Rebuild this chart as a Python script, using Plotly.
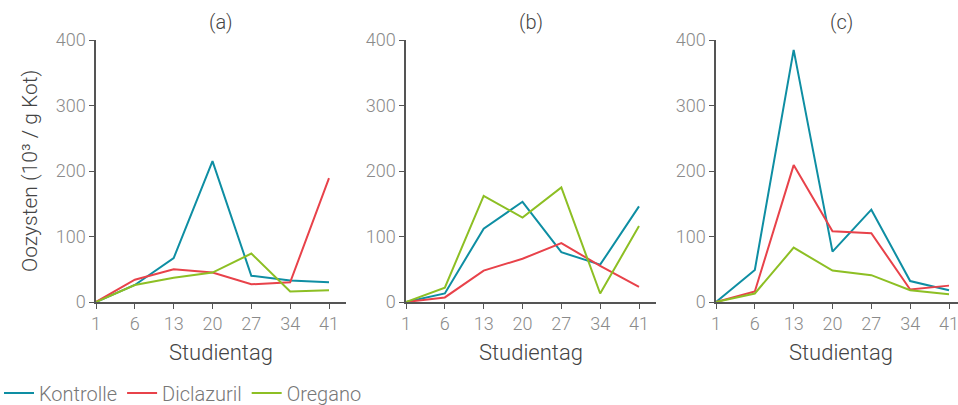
import plotly.graph_objects as go

days = ["1", "6", "13", "20", "27", "34", "41"]
panels = ["(a)", "(b)", "(c)"]
series_names = ["Kontrolle", "Diclazuril", "Oregano"]

kontrolle_a = [0, 26, 67, 215, 40, 33, 30]
diclazuril_a = [0, 34, 50, 45, 27, 30, 189]
oregano_a = [0, 26, 37, 45, 74, 16, 18]

kontrolle_b = [0, 13, 112, 153, 76, 57, 146]
diclazuril_b = [0, 7, 48, 66, 90, 55, 23]
oregano_b = [0, 22, 162, 129, 175, 13, 116]

kontrolle_c = [0, 49, 385, 77, 141, 32, 18]
diclazuril_c = [0, 16, 209, 108, 105, 19, 25]
oregano_c = [0, 13, 83, 48, 41, 18, 12]

y_ticks = [0, 100, 200, 300, 400]

colors = ["#0e8ea3", "#e8424a", "#8dbf24"]
data = [
    [kontrolle_a, diclazuril_a, oregano_a],
    [kontrolle_b, diclazuril_b, oregano_b],
    [kontrolle_c, diclazuril_c, oregano_c],
]

W, H = 958, 405
FONT = "Roboto"
tick_color = "#8a8a8a"
axis_color = "#555555"


def px(x):
    return x / W


def py(y):
    return (H - y) / H


# pixel layout (page coordinates)
starts = [96, 406, 716]
spacing = (329 - 96) / 6
ext = 6.45
y0_px, y1_px = 302, 40

fig = go.Figure()
for p in range(3):
    ax = "" if p == 0 else str(p + 1)
    for s in range(3):
        fig.add_trace(go.Scatter(
            x=days, y=data[p][s], mode="lines",
            line=dict(color=colors[s], width=2),
            name=series_names[s], showlegend=(p == 0),
            xaxis="x" + ax, yaxis="y" + ax,
        ))
    x_left = starts[p]
    x_right = min(x_left + ext * spacing, W)
    rng_max = (x_right - x_left) / spacing
    fig.layout["xaxis" + ax] = dict(
        domain=[px(x_left), min(px(x_right), 1)], type="category",
        range=[0, rng_max], anchor="y" + ax, automargin=False,
        ticklabeloverflow="allow",
        showline=True, linecolor=axis_color, linewidth=1.5,
        ticks="outside", ticklen=5, tickcolor=axis_color, tickwidth=1,
        showgrid=False, zeroline=False,
        tickfont=dict(family=FONT, size=18, color=tick_color, weight=300),
    )
    fig.layout["yaxis" + ax] = dict(
        domain=[py(y0_px), py(y1_px)], range=[0, 400],
        anchor="x" + ax, tickvals=y_ticks, automargin=False,
        showline=True, linecolor=axis_color, linewidth=1.5,
        ticks="outside", ticklen=5, tickcolor=axis_color, tickwidth=1,
        showgrid=False, zeroline=False,
        tickfont=dict(family=FONT, size=18, color=tick_color, weight=300),
    )
    cx = px(x_left + ext * spacing / 2)
    fig.add_annotation(text=panels[p], x=cx, y=py(22), xref="paper", yref="paper",
                       showarrow=False, xanchor="center", yanchor="middle",
                       font=dict(family=FONT, size=20, color="#444444", weight=300))
    fig.add_annotation(text="Studientag", x=cx, y=py(352), xref="paper", yref="paper",
                       showarrow=False, xanchor="center", yanchor="middle",
                       font=dict(family=FONT, size=22, color="#444444", weight=300))

fig.add_annotation(text="Oozysten (10³ / g Kot)", x=px(30), y=py(171),
                   xref="paper", yref="paper", showarrow=False, textangle=-90,
                   xanchor="center", yanchor="middle",
                   font=dict(family=FONT, size=21, color="#444444", weight=300))

fig.update_layout(
    width=W, height=H,
    margin=dict(l=0, r=0, t=0, b=0, autoexpand=False),
    paper_bgcolor="white", plot_bgcolor="white",
    showlegend=True,
    legend=dict(orientation="h", x=px(-1), xanchor="left", y=py(393), yanchor="middle",
                font=dict(family=FONT, size=20, color="#777777", weight=300),
                itemwidth=30, tracegroupgap=0, bgcolor="rgba(0,0,0,0)"),
)

fig.write_html(
    "out.html",
    config={"displayModeBar": False},
    post_script="document.body.style.margin='0';document.body.style.overflow='hidden';",
)
